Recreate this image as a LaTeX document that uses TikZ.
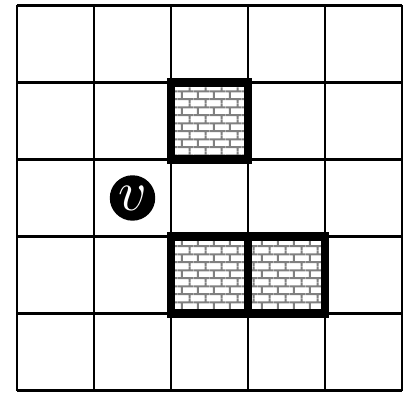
\documentclass[tikz,border=0pt]{standalone}
\usepackage{tikz}
\usetikzlibrary{patterns.meta}

\tikzdeclarepattern{
  name=wallbricks,
  type=uncolored,
  bottom left={(0pt,0pt)},
  top right={(6pt,6pt)},
  tile size={(6pt,6pt)},
  code={
    \draw[line width=0.8pt] (0pt,1.5pt) -- (6pt,1.5pt) (0pt,4.5pt) -- (6pt,4.5pt)
      (1.5pt,1.5pt) -- (1.5pt,4.5pt)
      (4.5pt,4.5pt) -- (4.5pt,6pt) (4.5pt,0pt) -- (4.5pt,1.5pt);
  }
}

\begin{document}
\begin{tikzpicture}[
    gridline/.style={line width=0.9pt, black},
    wallcell/.style={pattern={wallbricks}, pattern color=gray},
    wallrim/.style={line width=3.2pt, black},
    agent/.style={
        circle, fill=black, text=white, font=\huge,
        minimum size=0.59cm, inner sep=0pt
    }
]
\useasboundingbox (-0.22,-0.045) rectangle (5.18,5.07);

\draw[gridline] (0,0) grid (5,5);

% wall cells
\fill[wallcell] (2,3) rectangle (3,4);
\fill[wallcell] (2,1) rectangle (4,2);
\draw[wallrim] (2,3) rectangle (3,4);
\draw[wallrim] (2,1) rectangle (4,2) (3,1) -- (3,2);

\node[agent] (v) at (1.5,2.5) {$v$};

\end{tikzpicture}
\end{document}
